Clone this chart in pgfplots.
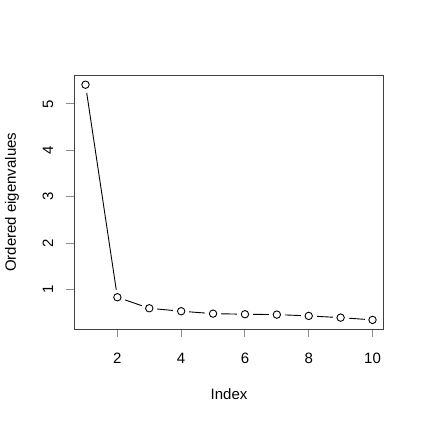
\documentclass[border=0pt]{standalone}
\usepackage{pgfplots}
\pgfplotsset{compat=1.18}
\usepackage{fontspec}
\setmainfont{Liberation Sans}
\pgfplotstableread{
x y
1 5.415
2 0.828
3 0.591
4 0.527
5 0.475
6 0.462
7 0.454
8 0.426
9 0.389
10 0.340
}\eig
\begin{document}
\fontsize{15}{18}\selectfont
\begin{tikzpicture}
\path[use as bounding box] (0pt,0pt) rectangle (423pt,423pt);
\begin{axis}[
  at={(74pt,93.7pt)}, anchor=south west,
  scale only axis, width=310pt, height=254pt,
  xmin=0.64, xmax=10.36, ymin=0.137, ymax=5.618,
  xtick={2,4,6,8,10}, ytick={1,2,3,4,5},
  tick pos=left, tick align=outside, major tick length=8pt,
  axis line style={black!75, line width=1pt},
  every tick/.style={black!45, line width=0.9pt},
  /pgf/number format/assume math mode=true,
  ticklabel style={font=\fontsize{15}{18}\selectfont},
  xticklabel style={anchor=center, yshift=-21pt},
  yticklabel style={xshift=-18pt, rotate=90, anchor=center},
  clip=false,
]
\addplot[black, line width=0.9pt, mark=none] table {\eig};
\addplot[only marks, white, mark=*, mark size=7.5pt, mark options={draw=white, fill=white, line width=0pt}] table {\eig};
\addplot[only marks, black, mark=*, mark size=3.7pt, mark options={draw=black, fill=white, line width=0.9pt}] table {\eig};
\node[yshift=-65pt, anchor=center, font=\fontsize{15}{18}\selectfont] at (rel axis cs:0.5,0) {Index};
\node[xshift=-62pt, rotate=90, anchor=center, font=\fontsize{15}{18}\selectfont] at (rel axis cs:0,0.5) {Ordered eigenvalues};
\end{axis}
\end{tikzpicture}
\end{document}
